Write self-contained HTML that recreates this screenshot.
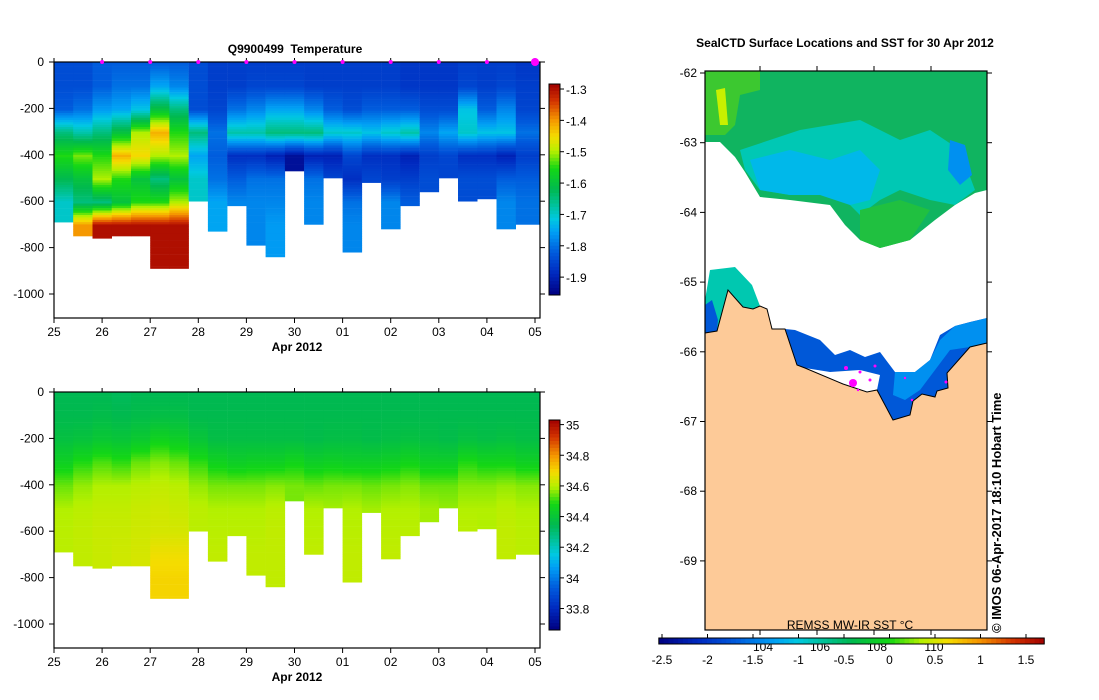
<!DOCTYPE html>
<html><head><meta charset="utf-8"><style>
body{margin:0;background:#fff;}
svg{display:block;font-family:"Liberation Sans",Arial,sans-serif;}
</style></head><body>
<svg id="fig" width="1099" height="700" viewBox="0 0 1099 700">
<g id="tempPlot"></g>
<g id="salPlot"></g>
<g id="mapPlot"></g>
</svg>
<script>
// ---- data ----
const profTimes=[25.0,25.4,25.8,26.2,26.6,27.0,27.4,27.8,28.2,28.6,29.0,29.4,29.8,30.2,30.6,31.0,31.4,31.8,32.2,32.6,33.0,33.4,33.8,34.2,34.6];
const profMaxDepth=[690,745,755,750,750,885,885,600,730,620,785,840,470,700,500,820,520,720,620,560,500,600,590,720,695];
const levelDepths=[0,100,200,300,400,500,600,700,800,900];
const tempProfiles=[
[-1.84,-1.84,-1.82,-1.65,-1.55,-1.62,-1.70],
[-1.84,-1.84,-1.80,-1.68,-1.52,-1.60,-1.65,-1.40],
[-1.82,-1.82,-1.76,-1.65,-1.55,-1.50,-1.65,-1.30],
[-1.82,-1.80,-1.75,-1.60,-1.42,-1.55,-1.60,-1.30],
[-1.82,-1.80,-1.72,-1.50,-1.45,-1.60,-1.55,-1.30],
[-1.82,-1.75,-1.60,-1.42,-1.50,-1.65,-1.55,-1.30,-1.30],
[-1.82,-1.78,-1.65,-1.55,-1.50,-1.60,-1.50,-1.30,-1.30],
[-1.84,-1.84,-1.84,-1.65,-1.75,-1.70,-1.70],
[-1.86,-1.86,-1.85,-1.80,-1.82,-1.80,-1.75,-1.75],
[-1.86,-1.86,-1.80,-1.68,-1.88,-1.82,-1.78],
[-1.86,-1.85,-1.78,-1.68,-1.88,-1.80,-1.78,-1.78],
[-1.86,-1.85,-1.75,-1.65,-1.90,-1.80,-1.78,-1.76,-1.76],
[-1.86,-1.85,-1.75,-1.65,-1.93],
[-1.86,-1.86,-1.78,-1.65,-1.90,-1.80,-1.78,-1.78],
[-1.86,-1.86,-1.82,-1.70,-1.90,-1.85],
[-1.86,-1.86,-1.84,-1.70,-1.85,-1.88,-1.80,-1.78,-1.78],
[-1.86,-1.86,-1.82,-1.72,-1.88,-1.85],
[-1.86,-1.86,-1.82,-1.70,-1.88,-1.86,-1.78,-1.78],
[-1.87,-1.87,-1.82,-1.68,-1.90,-1.86,-1.82],
[-1.87,-1.87,-1.84,-1.78,-1.86,-1.84],
[-1.87,-1.87,-1.84,-1.75,-1.85,-1.85],
[-1.86,-1.85,-1.72,-1.70,-1.88,-1.84,-1.84],
[-1.86,-1.86,-1.82,-1.72,-1.88,-1.84],
[-1.86,-1.85,-1.78,-1.72,-1.90,-1.82,-1.78,-1.78],
[-1.87,-1.86,-1.85,-1.80,-1.86,-1.82,-1.80]
];
const salProfiles=[
[34.34,34.35,34.38,34.45,34.54,34.59,34.60],
[34.34,34.35,34.39,34.49,34.57,34.60,34.61,34.61],
[34.34,34.36,34.41,34.52,34.59,34.61,34.62,34.62],
[34.33,34.35,34.40,34.50,34.59,34.61,34.62,34.63],
[34.34,34.36,34.42,34.54,34.60,34.62,34.63,34.64],
[34.34,34.37,34.46,34.56,34.61,34.63,34.64,34.68,34.70],
[34.34,34.37,34.44,34.54,34.60,34.62,34.64,34.68,34.70],
[34.34,34.35,34.40,34.50,34.57,34.60],
[34.34,34.35,34.37,34.46,34.55,34.59,34.60,34.61],
[34.34,34.35,34.37,34.44,34.55,34.59,34.60],
[34.34,34.35,34.37,34.45,34.55,34.59,34.60,34.61],
[34.34,34.35,34.37,34.45,34.56,34.60,34.61,34.61,34.61],
[34.34,34.35,34.37,34.47,34.55],
[34.34,34.35,34.36,34.44,34.54,34.59,34.60,34.61],
[34.34,34.35,34.37,34.45,34.55,34.58],
[34.34,34.35,34.37,34.44,34.55,34.59,34.60,34.61,34.61],
[34.34,34.35,34.36,34.44,34.54,34.58],
[34.34,34.35,34.37,34.45,34.55,34.59,34.60,34.61],
[34.34,34.35,34.38,34.47,34.56,34.59,34.60],
[34.34,34.35,34.37,34.44,34.54,34.58],
[34.34,34.35,34.36,34.44,34.54,34.57],
[34.34,34.35,34.38,34.49,34.56,34.59,34.60],
[34.34,34.35,34.37,34.47,34.56,34.59],
[34.34,34.35,34.38,34.47,34.57,34.60,34.61,34.61],
[34.34,34.35,34.37,34.45,34.56,34.59,34.60]
];
const dayTicks=[25,26,27,28,29,30,31,32,33,34,35];
const dayLabels=["25","26","27","28","29","30","01","02","03","04","05"];
const depthTicks=[0,-200,-400,-600,-800,-1000];
const tempCbTicks=[-1.3,-1.4,-1.5,-1.6,-1.7,-1.8,-1.9];
const salCbTicks=[35,34.8,34.6,34.4,34.2,34,33.8];
const sstTicks=[-2.5,-2,-1.5,-1,-0.5,0,0.5,1,1.5];
const lonLabels=["104","106","108","110"];
const lonTicks=[104,106,108,110];
const latTicks=[-62,-63,-64,-65,-66,-67,-68,-69];

// ---- helpers ----
const NS="http://www.w3.org/2000/svg";
function mk(parent,tag,attrs){const e=document.createElementNS(NS,tag);for(const k in attrs)e.setAttribute(k,attrs[k]);parent.appendChild(e);return e;}
const stops=[[0,[0,0,128]],[0.1,[0,40,190]],[0.2,[0,90,220]],[0.3,[0,160,245]],[0.36,[0,200,225]],[0.42,[0,195,160]],[0.5,[0,185,80]],[0.6,[20,215,20]],[0.68,[180,240,0]],[0.75,[245,220,0]],[0.83,[245,150,0]],[0.92,[210,50,0]],[1,[160,0,0]]];
function cmap(f){f=Math.max(0,Math.min(1,f));for(let i=1;i<stops.length;i++){if(f<=stops[i][0]){const a=stops[i-1],b=stops[i];const t=(f-a[0])/(b[0]-a[0]);const c=a[1].map((v,j)=>Math.round(v+(b[1][j]-v)*t));return `rgb(${c[0]},${c[1]},${c[2]})`;}}return 'rgb(160,0,0)';}
function interp(arr,d){const i=Math.min(Math.floor(d/100),arr.length-1);const j=Math.min(i+1,arr.length-1);const t=(d-i*100)/100;return arr[i]+(arr[j]-arr[i])*Math.min(1,t);}

function section(g,top,profiles,vmin,vmax,cbTop,cbBot,cbTicks,cbFmt,title,markers){
  const X0=54,X1=540,yScale=0.232;
  const xDay=d=>X0+(d-25)*48.1;
  const yD=z=>top+z*yScale;
  const bottom=top+256;
  for(let i=0;i<profTimes.length;i++){
    const xa=xDay(profTimes[i]),xb=i<profTimes.length-1?xDay(profTimes[i+1]):X1;
    for(let d=0;d<profMaxDepth[i];d+=10){
      const v=interp(profiles[i],d);
      const r=mk(g,'rect',{x:xa.toFixed(1),y:yD(d).toFixed(1),width:(xb-xa+0.3).toFixed(1),height:(10*yScale+0.3).toFixed(2),fill:cmap((v-vmin)/(vmax-vmin))});
      
      
    }
  }
  mk(g,'rect',{x:X0,y:top,width:X1-X0,height:256,fill:'none',stroke:'#000','stroke-width':1.2,});
  depthTicks.forEach(t=>{const y=yD(-t);mk(g,'line',{x1:X0-5,x2:X0,y1:y,y2:y,stroke:'#000'});mk(g,'line',{x1:X1,x2:X1+5,y1:y,y2:y,stroke:'#000'});
    const tx=mk(g,'text',{x:X0-10,y:y+4,'text-anchor':'end','font-size':12});tx.textContent=t;});
  dayTicks.forEach((d,k)=>{const x=xDay(d);mk(g,'line',{x1:x,x2:x,y1:bottom,y2:bottom+5,stroke:'#000'});mk(g,'line',{x1:x,x2:x,y1:top-4,y2:top,stroke:'#000'});
    const tx=mk(g,'text',{x:x,y:bottom+18,'text-anchor':'middle','font-size':12});tx.textContent=dayLabels[k];});
  const xl=mk(g,'text',{x:297,y:bottom+33,'text-anchor':'middle','font-size':12,'font-weight':'bold'});xl.textContent='Apr 2012';
  if(title){const t=mk(g,'text',{x:295,y:top-9,'text-anchor':'middle','font-size':12,'font-weight':'bold'});t.textContent=title;}
  if(markers){dayTicks.slice(1).forEach((d,k)=>{const m=mk(g,'circle',{cx:xDay(d),cy:top,r:k==9?4:2,fill:'#ff00ff'});});}
  const cx=549,cw=11,n=60;
  for(let k=0;k<n;k++){const f=1-(k+0.5)/n;const r=mk(g,'rect',{x:cx,y:cbTop+(cbBot-cbTop)*k/n,width:cw,height:(cbBot-cbTop)/n+0.4,fill:cmap(f)});}
  mk(g,'rect',{x:cx,y:cbTop,width:cw,height:cbBot-cbTop,fill:'none',stroke:'#000',});
  cbTicks.forEach(v=>{const y=cbBot-(v-vmin)/(vmax-vmin)*(cbBot-cbTop);mk(g,'line',{x1:cx+cw,x2:cx+cw+4,y1:y,y2:y,stroke:'#000'});
    const tx=mk(g,'text',{x:cx+cw+6,y:y+5,'font-size':12});tx.textContent=cbFmt(v);});
}
section(document.getElementById('tempPlot'),62,tempProfiles,-1.957,-1.284,84,295,tempCbTicks,v=>v.toFixed(1),'Q9900499\u00a0\u00a0Temperature',true);
section(document.getElementById('salPlot'),392,salProfiles,33.66,35.03,420,630,salCbTicks,v=>(+v.toFixed(1)).toString(),null,false);

// ---- map ----
const mg=document.getElementById('mapPlot');
const MX0=705,MX1=987,MY0=71,MY1=630;
mk(mg,'rect',{x:MX0,y:MY0,width:MX1-MX0,height:MY1-MY0,fill:'#fff'});
mk(mg,'polygon',{points:'705,71 987,71 987,190 975,193 955,205 935,220 910,240 880,248 860,240 845,225 830,205 790,200 760,197 745,172 735,157 720,142 705,142',fill:'#10b460',});
mk(mg,'polygon',{points:'740,150 800,130 860,120 900,140 930,130 960,150 975,190 955,205 930,200 900,190 880,200 860,215 845,200 830,195 790,195 760,190 745,170',fill:'#00c8b4'});
mk(mg,'polygon',{points:'750,160 790,150 830,160 860,150 880,170 870,200 850,205 820,195 790,195 760,190',fill:'#00b8ea'});
mk(mg,'polygon',{points:'950,140 965,145 972,175 960,185 948,170',fill:'#0090f0'});
mk(mg,'polygon',{points:'705,71 760,71 760,90 740,95 735,125 725,135 705,135',fill:'#3cc830'});
mk(mg,'polygon',{points:'716,90 725,88 728,125 720,125',fill:'#c8f000'});
mk(mg,'polygon',{points:'860,210 900,200 930,210 910,240 880,248 860,240',fill:'#20c040'});
mk(mg,'polygon',{points:'705,300 710,270 735,267 752,285 760,306 753,309 743,307 728,290 717,331 705,333',fill:'#00c8b0',});
mk(mg,'polygon',{points:'705,305 712,300 718,320 717,331 705,333',fill:'#0058d8'});
mk(mg,'polygon',{points:'785,329 795,330 820,340 835,355 850,350 865,357 880,352 895,372 915,372 930,360 940,335 955,326 970,322 987,318 987,343 970,347 947,373 948,388 937,391 935,397 922,394 913,401 910,415 893,420 877,390 867,392 843,384 805,368 797,365',fill:'#0058d8',});
mk(mg,'polygon',{points:'895,372 915,372 930,360 940,340 955,326 987,318 987,343 970,347 950,350 935,370 920,390 905,400 893,395',fill:'#0090f0'});
mk(mg,'polygon',{points:'805,368 843,384 867,392 877,390 880,375 860,370 830,372',fill:'#fff'});
mk(mg,'polygon',{points:'705,333 717,331 728,290 743,307 753,309 760,306 767,309 772,329 785,329 797,365 805,368 843,384 867,392 877,390 893,420 910,415 913,401 922,394 935,397 937,391 948,388 947,373 970,347 987,343 987,630 705,630',fill:'#fdca98',stroke:'#000','stroke-width':1,});
[[853,383,4],[846,368,2],[860,372,1.5],[870,380,1.5],[875,366,1.5],[905,378,1.2],[912,400,1.2],[946,382,1.5],[858,390,1.2]].forEach(p=>{const c=mk(mg,'circle',{cx:p[0],cy:p[1],r:p[2],fill:'#ff00ff'});});
mk(mg,'rect',{x:MX0,y:MY0,width:MX1-MX0,height:MY1-MY0,fill:'none',stroke:'#000','stroke-width':1.2,});
latTicks.forEach(l=>{const y=73+(-62-l)*69.7;mk(mg,'line',{x1:MX0-5,x2:MX0,y1:y,y2:y,stroke:'#000'});mk(mg,'line',{x1:MX1,x2:MX1+5,y1:y,y2:y,stroke:'#000'});
  const t=mk(mg,'text',{x:697,y:y+4,'text-anchor':'end','font-size':12});t.textContent=l;});
lonTicks.forEach((lo,k)=>{const x=760+(lo-104)*28.5;mk(mg,'line',{x1:x,x2:x,y1:MY0-5,y2:MY0,stroke:'#000'});mk(mg,'line',{x1:x,x2:x,y1:MY1,y2:MY1+5,stroke:'#000'});
  const t=mk(mg,'text',{x:x+3,y:651,'text-anchor':'middle','font-size':12});t.textContent=lonLabels[k];});
const mt=mk(mg,'text',{x:845,y:47,'text-anchor':'middle','font-size':12,'font-weight':'bold'});mt.textContent='SealCTD Surface Locations and SST for 30 Apr 2012';
const st=mk(mg,'text',{x:850,y:629,'text-anchor':'middle','font-size':12});st.textContent='REMSS MW-IR SST °C';
const cr=mk(mg,'text',{x:0,y:0,'font-size':13,'font-weight':'bold',transform:'translate(1001,633) rotate(-90)'});cr.textContent='© IMOS 06-Apr-2017 18:10 Hobart Time';
const sx=v=>662+(v+2.5)*91,smin=-2.535,smax=1.7;
const N=80;for(let k=0;k<N;k++){const v0=smin+(smax-smin)*k/N;const r=mk(mg,'rect',{x:sx(v0),y:638,width:(smax-smin)*91/N+0.4,height:6,fill:cmap((k+0.5)/N)});}
mk(mg,'rect',{x:sx(smin),y:638,width:(smax-smin)*91,height:6,fill:'none',stroke:'#000',});
sstTicks.forEach(v=>{const x=sx(v);mk(mg,'line',{x1:x,x2:x,y1:634,y2:638,stroke:'#000'});
  const t=mk(mg,'text',{x:x,y:664,'text-anchor':'middle','font-size':12});t.textContent=v;});
</script>
</body></html>
